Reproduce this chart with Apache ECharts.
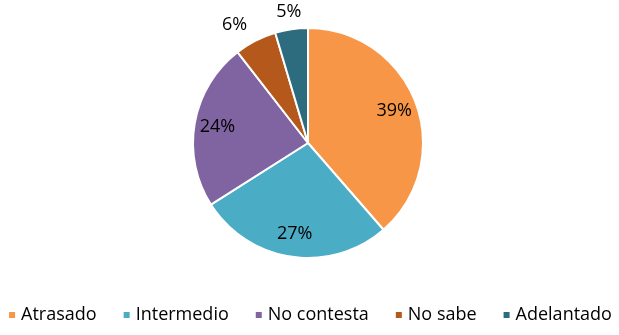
<!DOCTYPE html>
<html>
<head>
<meta charset="utf-8">
<script src="https://cdn.jsdelivr.net/npm/echarts@6/dist/echarts.min.js"></script>
<style>
html,body{margin:0;padding:0;background:#fff;}
#chart{width:619px;height:335px;}
</style>
</head>
<body>
<div id="chart"></div>
<script>
const categories = ['Atrasado', 'Intermedio', 'No contesta', 'No sabe', 'Adelantado'];
const values = [38.6, 27.4, 23.5, 5.9, 4.6];
const labelsText = ['39%', '27%', '24%', '6%', '5%'];
const colors = ['#F79646', '#4BACC6', '#8064A2', '#B5581B', '#2C6C7E'];
const insideIdx = [0, 1, 2];

const chart = echarts.init(document.getElementById('chart'));
const font = '"Open Sans", "Noto Sans", sans-serif';

const mainData = categories.map((c, i) => ({
  name: c,
  value: values[i],
  itemStyle: { color: colors[i] },
  label: insideIdx.includes(i) ? { show: false } : {
    show: true, position: 'outside', formatter: labelsText[i]
  }
}));
const overlayData = categories.map((c, i) => ({
  name: c,
  value: values[i],
  label: insideIdx.includes(i) ? { show: true, position: 'inside', formatter: labelsText[i] } : { show: false }
}));

chart.setOption({
  animation: false,
  backgroundColor: '#fff',
  legend: {
    left: 'center',
    top: 306,
    padding: 0,
    icon: 'rect',
    itemWidth: 8,
    itemHeight: 8,
    itemGap: 25,
    textStyle: { fontFamily: font, fontSize: 18, color: '#000' },
    data: categories.map((c, i) => ({ name: c, itemStyle: { color: colors[i], opacity: 1 } }))
  },
  series: [
    {
      type: 'pie',
      center: [308, 143],
      radius: [0, 115],
      startAngle: 90,
      clockwise: true,
      avoidLabelOverlap: false,
      data: mainData,
      itemStyle: { borderColor: '#fff', borderWidth: 2 },
      label: { fontFamily: font, fontSize: 18, color: '#000', distanceToLabelLine: 0 },
      labelLine: { show: false, length: 18, length2: 0 },
      labelLayout: function (p) {
        return p.dataIndex === 4 ? { align: 'center' } : {};
      },
      emphasis: { disabled: true }
    },
    {
      type: 'pie',
      center: [308, 143],
      radius: [68, 110],
      startAngle: 90,
      clockwise: true,
      silent: true,
      data: overlayData,
      itemStyle: { color: 'rgba(0,0,0,0)', borderWidth: 0 },
      label: { fontFamily: font, fontSize: 18, color: '#000' },
      labelLine: { show: false },
      emphasis: { disabled: true }
    }
  ]
});
</script>
</body>
</html>
